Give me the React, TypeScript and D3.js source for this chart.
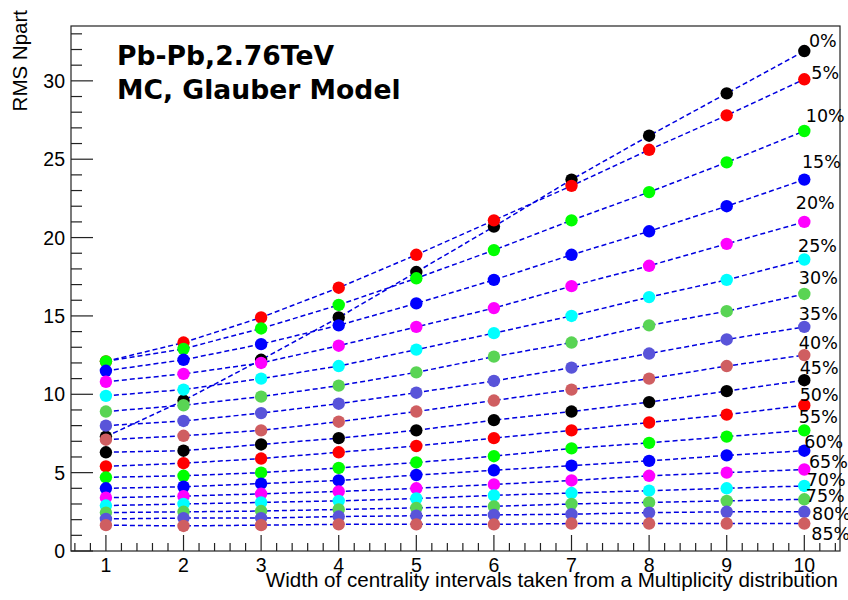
import React from "react";
import * as d3 from "d3";

// Width of the centrality interval (x axis)
const widths = [1, 2, 3, 4, 5, 6, 7, 8, 9, 10];

// RMS of Npart for each centrality class, one value per interval width
const rms00 = [7.3, 9.6, 12.2, 14.9, 17.8, 20.7, 23.7, 26.5, 29.2, 31.9];
const rms05 = [12.1, 13.3, 14.9, 16.8, 18.9, 21.1, 23.3, 25.6, 27.8, 30.1];
const rms10 = [12.1, 12.9, 14.2, 15.7, 17.4, 19.2, 21.1, 22.9, 24.8, 26.8];
const rms15 = [11.5, 12.2, 13.2, 14.4, 15.8, 17.3, 18.9, 20.4, 22.0, 23.7];
const rms20 = [10.8, 11.3, 12.0, 13.1, 14.3, 15.5, 16.9, 18.2, 19.6, 21.0];
const rms25 = [9.9, 10.3, 11.0, 11.8, 12.85, 13.9, 15.0, 16.2, 17.3, 18.6];
const rms30 = [8.9, 9.3, 9.85, 10.55, 11.4, 12.4, 13.3, 14.4, 15.3, 16.4];
const rms35 = [8.0, 8.3, 8.8, 9.4, 10.1, 10.85, 11.7, 12.6, 13.5, 14.3];
const rms40 = [7.1, 7.35, 7.7, 8.25, 8.9, 9.6, 10.3, 11.0, 11.8, 12.5];
const rms45 = [6.3, 6.4, 6.8, 7.2, 7.7, 8.35, 8.9, 9.5, 10.2, 10.9];
const rms50 = [5.4, 5.6, 5.9, 6.3, 6.7, 7.2, 7.7, 8.2, 8.7, 9.3];
const rms55 = [4.7, 4.8, 5.0, 5.3, 5.65, 6.05, 6.55, 6.9, 7.3, 7.7];
const rms60 = [4.0, 4.1, 4.3, 4.5, 4.85, 5.15, 5.45, 5.75, 6.1, 6.4];
const rms65 = [3.4, 3.5, 3.65, 3.8, 4.0, 4.25, 4.5, 4.8, 5.0, 5.2];
const rms70 = [2.9, 3.0, 3.1, 3.2, 3.35, 3.55, 3.7, 3.85, 4.0, 4.15];
const rms75 = [2.45, 2.5, 2.55, 2.65, 2.75, 2.85, 3.0, 3.1, 3.2, 3.3];
const rms80 = [2.05, 2.1, 2.1, 2.2, 2.25, 2.3, 2.35, 2.45, 2.5, 2.5];
const rms85 = [1.65, 1.6, 1.65, 1.7, 1.7, 1.7, 1.75, 1.75, 1.75, 1.75];

const seriesValues = [
  rms00, rms05, rms10, rms15, rms20, rms25, rms30, rms35, rms40,
  rms45, rms50, rms55, rms60, rms65, rms70, rms75, rms80, rms85,
];

// Centrality class names
const classLabels = [
  "0%", "5%", "10%", "15%", "20%", "25%", "30%", "35%", "40%",
  "45%", "50%", "55%", "60%", "65%", "70%", "75%", "80%", "85%",
];

// Class label anchors in data coordinates (left edge / baseline)
const labelX = [
  10.06, 10.09, 10.02, 9.97, 9.89, 9.92, 9.93, 9.93, 9.93,
  9.94, 9.94, 9.93, 10.0, 10.06, 10.03, 10.02, 10.1, 10.09,
];
const labelY = [
  32.13, 30.09, 27.38, 24.47, 21.83, 19.08, 17.03, 14.71, 12.9,
  11.28, 9.59, 8.14, 6.59, 5.28, 4.12, 3.14, 1.97, 0.71,
];

// ROOT-style marker palette: 1, 2, 3, 4, 6, 7, 8, 9, 46 repeated
const palette = [
  "#000000", "#ff0000", "#00ff00", "#0000ff", "#ff00ff",
  "#00ffff", "#59d454", "#5954d9", "#cf5e61",
];

const xMajor = [1, 2, 3, 4, 5, 6, 7, 8, 9, 10];
const yMajor = [0, 5, 10, 15, 20, 25, 30];

const W = 848;
const H = 600;
const left = 71;
const right = 840;
const top = 26;
const bottom = 551;

export default function App() {
  const x = d3.scaleLinear().domain([0.55, 10.46]).range([left, right]);
  const y = d3.scaleLinear().domain([0, 33.5]).range([bottom, top]);

  const line = d3
    .line<number>()
    .x((_, i) => x(widths[i]))
    .y((v) => y(v));

  const xMinor = d3.range(6, 105, 2).map((v) => v / 10).filter((v) => Math.abs(v - Math.round(v)) > 1e-6);
  const yMinor = d3.range(1, 34).filter((v) => v % 5 !== 0);

  const axisColor = "#222";
  const sans = "'Liberation Sans', Arial, sans-serif";
  const dejavu = "'DejaVu Sans', sans-serif";

  return (
    <svg
      width={W}
      height={H}
      viewBox={`0 0 ${W} ${H}`}
      style={{ position: "absolute", left: 0, top: 0, background: "#fff" }}
    >
      <rect x={0} y={0} width={W} height={H} fill="#fff" />

      {/* frame */}
      <rect
        x={left}
        y={top}
        width={right - left}
        height={bottom - top}
        fill="none"
        stroke={axisColor}
        strokeWidth={1.2}
      />

      {/* x ticks */}
      {xMajor.map((v) => (
        <line key={"xM" + v} x1={x(v)} x2={x(v)} y1={bottom} y2={bottom - 16} stroke={axisColor} strokeWidth={1.2} />
      ))}
      {xMinor.map((v) => (
        <line key={"xm" + v} x1={x(v)} x2={x(v)} y1={bottom} y2={bottom - 8} stroke={axisColor} strokeWidth={1.2} />
      ))}
      {xMajor.map((v) => (
        <text
          key={"xl" + v}
          x={x(v)}
          y={572}
          textAnchor="middle"
          fontFamily={sans}
          fontSize={19.5}
          fill="#000"
        >
          {v}
        </text>
      ))}

      {/* y ticks */}
      {yMajor.map((v) => (
        <line key={"yM" + v} x1={left} x2={left + 22} y1={y(v)} y2={y(v)} stroke={axisColor} strokeWidth={1.2} />
      ))}
      {yMinor.map((v) => (
        <line key={"ym" + v} x1={left} x2={left + 11} y1={y(v)} y2={y(v)} stroke={axisColor} strokeWidth={1.2} />
      ))}
      {yMajor.map((v) => (
        <text
          key={"yl" + v}
          x={65}
          y={y(v) + 7}
          textAnchor="end"
          fontFamily={sans}
          fontSize={19.5}
          fill="#000"
        >
          {v}
        </text>
      ))}

      {/* axis titles */}
      <text x={838} y={587} textAnchor="end" fontFamily={sans} fontSize={20.6} fill="#000">
        Width of centrality intervals taken from a Multiplicity distribution
      </text>
      <text
        transform="translate(27,10) rotate(-90)"
        textAnchor="end"
        fontFamily={sans}
        fontSize={20.5}
        fill="#000"
      >
        RMS Npart
      </text>

      {/* graphs: dashed line then markers, one class after another */}
      {seriesValues.map((vals, s) => (
        <g key={"s" + s}>
          <path
            d={line(vals) || ""}
            fill="none"
            stroke="#0000e0"
            strokeWidth={1.5}
            strokeDasharray="5,3"
          />
          {vals.map((v, i) => (
            <circle
              key={i}
              cx={x(widths[i])}
              cy={y(v)}
              r={6.2}
              fill={palette[s % palette.length]}
            />
          ))}
        </g>
      ))}

      {/* class labels */}
      {classLabels.map((t, i) => (
        <text
          key={"cl" + i}
          x={x(labelX[i])}
          y={y(labelY[i])}
          fontFamily={dejavu}
          fontSize={17.5}
          fill="#000"
        >
          {t}
        </text>
      ))}

      {/* header text */}
      <text x={117} y={65} fontFamily={dejavu} fontWeight="bold" fontSize={26.6} fill="#000">
        Pb-Pb,2.76TeV
      </text>
      <text x={117} y={99} fontFamily={dejavu} fontWeight="bold" fontSize={26.6} fill="#000">
        MC, Glauber Model
      </text>
    </svg>
  );
}
